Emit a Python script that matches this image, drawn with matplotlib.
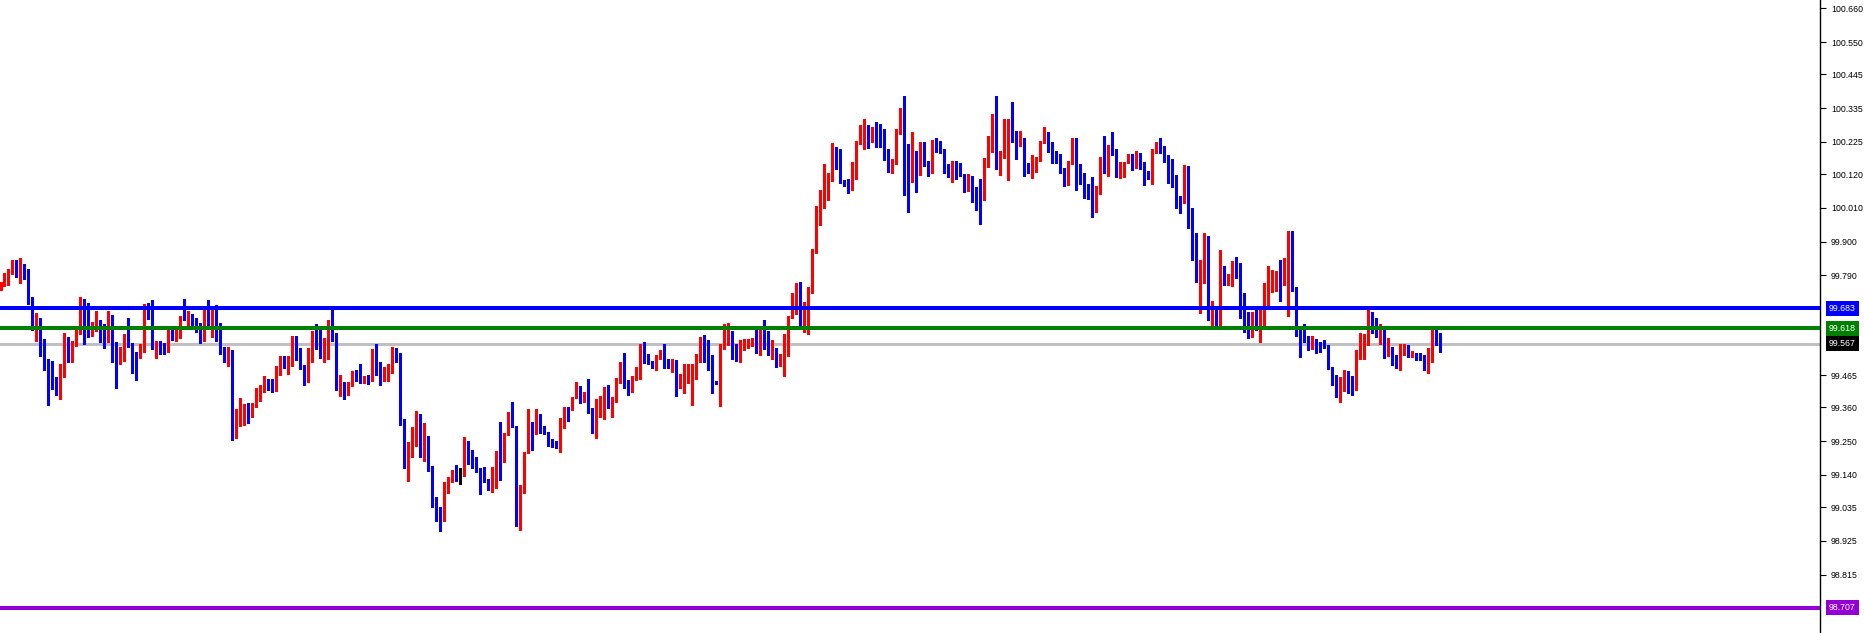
import matplotlib
matplotlib.use('Agg')
import matplotlib.pyplot as plt
import matplotlib.transforms as mtransforms
import numpy as np

plt.rcParams['font.family'] = ['Liberation Sans', 'DejaVu Sans']

# OHLC values, one candle per entry (left to right)
opens = [
    99.747, 99.756, 99.769, 99.802, 99.840, 99.802, 99.827, 99.810, 99.716, 99.632,
    99.651, 99.566, 99.517, 99.508, 99.458, 99.414, 99.495, 99.576, 99.525, 99.561,
    99.613, 99.709, 99.644, 99.609, 99.618, 99.644, 99.595, 99.585, 99.657, 99.561,
    99.515, 99.537, 99.589, 99.566, 99.528, 99.524, 99.561, 99.691, 99.685, 99.556,
    99.569, 99.563, 99.541, 99.602, 99.590, 99.606, 99.657, 99.645, 99.664, 99.635,
    99.628, 99.590, 99.664, 99.631, 99.683, 99.618, 99.542, 99.538, 99.544, 99.289,
    99.302, 99.341, 99.354, 99.341, 99.362, 99.413, 99.424, 99.445, 99.429, 99.415,
    99.492, 99.517, 99.497, 99.502, 99.582, 99.541, 99.495, 99.476, 99.547, 99.595,
    99.585, 99.521, 99.544, 99.605, 99.585, 99.427, 99.442, 99.411, 99.436, 99.471,
    99.463, 99.443, 99.458, 99.451, 99.546, 99.468, 99.459, 99.465, 99.476, 99.546,
    99.534, 99.319, 99.170, 99.246, 99.233, 99.336, 99.202, 99.244, 99.170, 99.067,
    99.012, 98.996, 99.101, 99.126, 99.156, 99.155, 99.150, 99.212, 99.198, 99.179,
    99.157, 99.153, 99.126, 99.094, 99.162, 99.214, 99.199, 99.271, 99.340, 99.298,
    98.978, 99.105, 99.211, 99.303, 99.287, 99.306, 99.287, 99.273, 99.257, 99.250,
    99.242, 99.293, 99.354, 99.351, 99.392, 99.425, 99.378, 99.407, 99.359, 99.282,
    99.355, 99.365, 99.420, 99.358, 99.382, 99.444, 99.491, 99.433, 99.427, 99.450,
    99.486, 99.564, 99.528, 99.504, 99.501, 99.517, 99.541, 99.510, 99.493, 99.504,
    99.436, 99.452, 99.491, 99.493, 99.494, 99.515, 99.579, 99.566, 99.487, 99.446,
    99.438, 99.561, 99.570, 99.610, 99.552, 99.521, 99.561, 99.561, 99.563, 99.569,
    99.561, 99.613, 99.579, 99.547, 99.550, 99.514, 99.528, 99.566, 99.655, 99.680,
    99.761, 99.629, 99.701, 99.736, 99.870, 99.960, 100.025, 100.085, 100.106, 100.204,
    100.166, 100.100, 100.090, 100.071, 100.111, 100.221, 100.223, 100.277, 100.225, 100.269,
    100.250, 100.221, 100.196, 100.136, 100.160, 100.257, 100.307, 100.155, 100.101, 100.171,
    100.152, 100.206, 100.152, 100.130, 100.225, 100.203, 100.198, 100.143, 100.125, 100.152,
    100.134, 100.119, 100.098, 100.114, 100.078, 100.058, 100.049, 100.172, 100.192, 100.313,
    100.147, 100.172, 100.204, 100.282, 100.230, 100.212, 100.237, 100.155, 100.130, 100.134,
    100.165, 100.223, 100.241, 100.223, 100.181, 100.176, 100.138, 100.125, 100.158, 100.233,
    100.134, 100.125, 100.058, 100.052, 100.013, 100.071, 100.158, 100.125, 100.210, 100.199,
    100.112, 100.114, 100.158, 100.177, 100.145, 100.177, 100.141, 100.125, 100.106, 100.193,
    100.220, 100.196, 100.181, 100.143, 100.116, 100.047, 100.025, 100.134, 99.992, 99.877,
    99.793, 99.829, 99.910, 99.655, 99.677, 99.630, 99.816, 99.774, 99.777, 99.832,
    99.803, 99.712, 99.666, 99.594, 99.659, 99.612, 99.653, 99.719, 99.769, 99.777,
    99.790, 99.775, 99.780, 99.901, 99.741, 99.619, 99.598, 99.581, 99.566, 99.572,
    99.566, 99.570, 99.558, 99.493, 99.465, 99.412, 99.455, 99.464, 99.461, 99.446,
    99.534, 99.541, 99.569, 99.666, 99.619, 99.606, 99.623, 99.536, 99.554, 99.530,
    99.501, 99.538, 99.563, 99.537, 99.538, 99.530, 99.530, 99.498, 99.549, 99.612,
    99.591,
]
highs = [
    99.767, 99.799, 99.810, 99.841, 99.841, 99.846, 99.828, 99.810, 99.720, 99.667,
    99.651, 99.582, 99.517, 99.510, 99.459, 99.501, 99.602, 99.589, 99.576, 99.617,
    99.720, 99.713, 99.700, 99.639, 99.673, 99.645, 99.631, 99.673, 99.660, 99.572,
    99.557, 99.599, 99.651, 99.569, 99.540, 99.567, 99.696, 99.700, 99.710, 99.576,
    99.576, 99.569, 99.618, 99.618, 99.618, 99.658, 99.713, 99.673, 99.665, 99.651,
    99.634, 99.677, 99.709, 99.688, 99.693, 99.634, 99.556, 99.558, 99.546, 99.354,
    99.390, 99.372, 99.374, 99.374, 99.424, 99.433, 99.462, 99.453, 99.452, 99.495,
    99.528, 99.526, 99.526, 99.592, 99.592, 99.553, 99.497, 99.555, 99.609, 99.631,
    99.618, 99.585, 99.644, 99.684, 99.602, 99.465, 99.442, 99.443, 99.479, 99.481,
    99.501, 99.462, 99.465, 99.550, 99.566, 99.507, 99.490, 99.501, 99.556, 99.555,
    99.538, 99.322, 99.248, 99.295, 99.349, 99.338, 99.309, 99.268, 99.170, 99.067,
    99.034, 99.118, 99.134, 99.156, 99.172, 99.164, 99.263, 99.250, 99.221, 99.197,
    99.163, 99.167, 99.126, 99.167, 99.219, 99.311, 99.276, 99.344, 99.379, 99.298,
    99.107, 99.214, 99.354, 99.311, 99.354, 99.338, 99.300, 99.281, 99.257, 99.250,
    99.324, 99.362, 99.362, 99.395, 99.444, 99.428, 99.411, 99.452, 99.359, 99.387,
    99.398, 99.425, 99.433, 99.393, 99.457, 99.507, 99.537, 99.449, 99.463, 99.491,
    99.566, 99.574, 99.534, 99.512, 99.531, 99.548, 99.566, 99.517, 99.516, 99.514,
    99.469, 99.501, 99.501, 99.501, 99.534, 99.590, 99.596, 99.579, 99.532, 99.446,
    99.566, 99.631, 99.635, 99.610, 99.566, 99.580, 99.582, 99.582, 99.585, 99.613,
    99.617, 99.644, 99.610, 99.580, 99.555, 99.534, 99.599, 99.659, 99.731, 99.765,
    99.769, 99.704, 99.751, 99.875, 100.016, 100.067, 100.152, 100.123, 100.221, 100.209,
    100.203, 100.100, 100.105, 100.158, 100.228, 100.279, 100.299, 100.279, 100.272, 100.290,
    100.282, 100.266, 100.201, 100.168, 100.268, 100.335, 100.375, 100.217, 100.257, 100.196,
    100.226, 100.223, 100.163, 100.231, 100.239, 100.228, 100.201, 100.152, 100.163, 100.163,
    100.155, 100.119, 100.119, 100.114, 100.078, 100.103, 100.172, 100.244, 100.317, 100.375,
    100.196, 100.299, 100.299, 100.356, 100.261, 100.261, 100.237, 100.155, 100.181, 100.177,
    100.228, 100.274, 100.257, 100.225, 100.196, 100.185, 100.141, 100.163, 100.236, 100.239,
    100.154, 100.125, 100.087, 100.109, 100.081, 100.174, 100.244, 100.215, 100.257, 100.201,
    100.158, 100.160, 100.185, 100.185, 100.196, 100.188, 100.158, 100.130, 100.201, 100.223,
    100.236, 100.210, 100.181, 100.168, 100.116, 100.049, 100.149, 100.147, 100.011, 99.927,
    99.839, 99.927, 99.918, 99.706, 99.690, 99.872, 99.820, 99.796, 99.836, 99.849,
    99.829, 99.733, 99.670, 99.671, 99.681, 99.681, 99.764, 99.820, 99.809, 99.804,
    99.839, 99.845, 99.933, 99.936, 99.752, 99.620, 99.633, 99.594, 99.592, 99.583,
    99.574, 99.581, 99.562, 99.493, 99.465, 99.459, 99.481, 99.477, 99.462, 99.547,
    99.603, 99.598, 99.679, 99.670, 99.652, 99.630, 99.625, 99.587, 99.556, 99.532,
    99.568, 99.565, 99.563, 99.543, 99.538, 99.538, 99.532, 99.554, 99.625, 99.614,
    99.603,
]
lows = [
    99.743, 99.754, 99.758, 99.793, 99.786, 99.764, 99.778, 99.696, 99.613, 99.577,
    99.528, 99.482, 99.368, 99.421, 99.401, 99.388, 99.459, 99.508, 99.508, 99.559,
    99.598, 99.566, 99.590, 99.591, 99.609, 99.574, 99.552, 99.574, 99.508, 99.424,
    99.502, 99.512, 99.557, 99.473, 99.450, 99.520, 99.541, 99.647, 99.550, 99.520,
    99.534, 99.533, 99.540, 99.580, 99.576, 99.585, 99.644, 99.623, 99.623, 99.606,
    99.569, 99.577, 99.628, 99.590, 99.576, 99.534, 99.508, 99.495, 99.253, 99.260,
    99.300, 99.303, 99.309, 99.328, 99.361, 99.380, 99.411, 99.417, 99.410, 99.413,
    99.465, 99.488, 99.468, 99.494, 99.515, 99.486, 99.432, 99.442, 99.508, 99.550,
    99.522, 99.508, 99.518, 99.577, 99.417, 99.398, 99.388, 99.401, 99.430, 99.446,
    99.440, 99.439, 99.437, 99.445, 99.465, 99.433, 99.445, 99.445, 99.473, 99.508,
    99.304, 99.162, 99.121, 99.199, 99.233, 99.199, 99.186, 99.154, 99.036, 98.989,
    98.958, 98.989, 99.082, 99.116, 99.120, 99.110, 99.137, 99.177, 99.162, 99.150,
    99.078, 99.116, 99.091, 99.083, 99.096, 99.123, 99.183, 99.271, 99.295, 98.974,
    98.961, 99.082, 99.211, 99.222, 99.273, 99.277, 99.272, 99.235, 99.230, 99.227,
    99.215, 99.292, 99.316, 99.350, 99.390, 99.373, 99.376, 99.341, 99.275, 99.260,
    99.327, 99.322, 99.358, 99.329, 99.376, 99.441, 99.422, 99.400, 99.411, 99.448,
    99.454, 99.504, 99.501, 99.487, 99.483, 99.517, 99.487, 99.487, 99.476, 99.398,
    99.422, 99.407, 99.441, 99.368, 99.452, 99.507, 99.509, 99.482, 99.407, 99.436,
    99.365, 99.550, 99.564, 99.517, 99.512, 99.509, 99.548, 99.555, 99.560, 99.537,
    99.530, 99.550, 99.530, 99.517, 99.493, 99.496, 99.463, 99.528, 99.650, 99.664,
    99.625, 99.607, 99.598, 99.734, 99.864, 99.954, 100.008, 100.036, 100.098, 100.138,
    100.092, 100.081, 100.058, 100.068, 100.105, 100.217, 100.201, 100.206, 100.223, 100.209,
    100.209, 100.165, 100.127, 100.123, 100.152, 100.250, 100.051, 99.997, 100.095, 100.062,
    100.116, 100.147, 100.114, 100.125, 100.192, 100.188, 100.125, 100.111, 100.095, 100.103,
    100.114, 100.062, 100.065, 100.029, 100.003, 99.957, 100.036, 100.144, 100.192, 100.136,
    100.116, 100.171, 100.100, 100.225, 100.168, 100.211, 100.114, 100.125, 100.107, 100.128,
    100.163, 100.221, 100.192, 100.155, 100.155, 100.123, 100.082, 100.084, 100.152, 100.069,
    100.087, 100.043, 100.040, 99.980, 99.997, 100.054, 100.124, 100.114, 100.183, 100.112,
    100.106, 100.112, 100.155, 100.134, 100.141, 100.136, 100.084, 100.103, 100.087, 100.190,
    100.188, 100.160, 100.090, 100.079, 100.011, 99.992, 100.025, 99.944, 99.840, 99.769,
    99.667, 99.764, 99.644, 99.628, 99.623, 99.628, 99.758, 99.758, 99.755, 99.780,
    99.650, 99.606, 99.587, 99.590, 99.612, 99.573, 99.625, 99.695, 99.737, 99.739,
    99.706, 99.758, 99.659, 99.738, 99.592, 99.524, 99.574, 99.546, 99.549, 99.538,
    99.541, 99.554, 99.486, 99.432, 99.395, 99.377, 99.412, 99.407, 99.399, 99.418,
    99.519, 99.516, 99.563, 99.603, 99.589, 99.568, 99.522, 99.527, 99.498, 99.487,
    99.483, 99.532, 99.525, 99.525, 99.514, 99.514, 99.481, 99.473, 99.507, 99.562,
    99.541,
]
closes = [
    99.758, 99.774, 99.802, 99.836, 99.802, 99.824, 99.808, 99.710, 99.631, 99.651,
    99.561, 99.515, 99.504, 99.456, 99.414, 99.495, 99.577, 99.525, 99.540, 99.613,
    99.713, 99.641, 99.609, 99.618, 99.644, 99.593, 99.585, 99.657, 99.558, 99.515,
    99.540, 99.592, 99.563, 99.524, 99.525, 99.566, 99.693, 99.678, 99.552, 99.572,
    99.561, 99.541, 99.602, 99.590, 99.612, 99.657, 99.645, 99.664, 99.628, 99.628,
    99.590, 99.664, 99.631, 99.683, 99.609, 99.544, 99.538, 99.546, 99.289, 99.305,
    99.341, 99.351, 99.341, 99.362, 99.416, 99.426, 99.445, 99.424, 99.417, 99.492,
    99.514, 99.497, 99.505, 99.579, 99.538, 99.491, 99.479, 99.550, 99.595, 99.587,
    99.525, 99.546, 99.602, 99.580, 99.427, 99.439, 99.411, 99.439, 99.471, 99.459,
    99.443, 99.458, 99.451, 99.546, 99.468, 99.459, 99.468, 99.478, 99.543, 99.528,
    99.316, 99.170, 99.246, 99.268, 99.335, 99.202, 99.248, 99.170, 99.061, 99.010,
    98.996, 99.104, 99.130, 99.156, 99.150, 99.155, 99.214, 99.193, 99.175, 99.153,
    99.151, 99.123, 99.094, 99.167, 99.212, 99.197, 99.273, 99.338, 99.300, 98.978,
    99.107, 99.214, 99.303, 99.287, 99.305, 99.287, 99.273, 99.250, 99.235, 99.238,
    99.293, 99.354, 99.349, 99.392, 99.425, 99.377, 99.406, 99.354, 99.282, 99.358,
    99.367, 99.420, 99.358, 99.384, 99.446, 99.491, 99.427, 99.427, 99.452, 99.488,
    99.564, 99.521, 99.504, 99.501, 99.521, 99.541, 99.510, 99.493, 99.504, 99.436,
    99.452, 99.491, 99.496, 99.496, 99.517, 99.582, 99.564, 99.487, 99.444, 99.438,
    99.564, 99.576, 99.610, 99.550, 99.521, 99.564, 99.579, 99.579, 99.580, 99.561,
    99.613, 99.579, 99.548, 99.550, 99.512, 99.530, 99.569, 99.655, 99.682, 99.762,
    99.629, 99.701, 99.738, 99.872, 99.962, 100.027, 100.087, 100.106, 100.204, 100.163,
    100.100, 100.087, 100.067, 100.113, 100.221, 100.225, 100.274, 100.225, 100.269, 100.244,
    100.215, 100.192, 100.134, 100.163, 100.263, 100.307, 100.152, 100.101, 100.174, 100.152,
    100.206, 100.149, 100.130, 100.228, 100.198, 100.192, 100.143, 100.125, 100.152, 100.130,
    100.117, 100.098, 100.117, 100.076, 100.060, 100.049, 100.172, 100.196, 100.313, 100.147,
    100.179, 100.204, 100.282, 100.228, 100.212, 100.237, 100.152, 100.130, 100.145, 100.168,
    100.225, 100.241, 100.219, 100.179, 100.172, 100.138, 100.125, 100.158, 100.230, 100.134,
    100.123, 100.051, 100.049, 100.013, 100.074, 100.158, 100.125, 100.209, 100.196, 100.114,
    100.115, 100.158, 100.177, 100.145, 100.179, 100.141, 100.125, 100.106, 100.196, 100.217,
    100.192, 100.179, 100.141, 100.114, 100.041, 100.025, 100.134, 99.989, 99.873, 99.794,
    99.832, 99.910, 99.657, 99.677, 99.630, 99.816, 99.774, 99.780, 99.832, 99.801,
    99.708, 99.659, 99.594, 99.663, 99.614, 99.653, 99.721, 99.777, 99.780, 99.793,
    99.775, 99.784, 99.901, 99.739, 99.617, 99.595, 99.576, 99.570, 99.572, 99.566,
    99.556, 99.556, 99.488, 99.464, 99.412, 99.459, 99.466, 99.458, 99.446, 99.536,
    99.541, 99.573, 99.666, 99.614, 99.604, 99.625, 99.536, 99.554, 99.530, 99.503,
    99.540, 99.563, 99.535, 99.539, 99.525, 99.527, 99.498, 99.552, 99.612, 99.592,
    99.567,
]

# horizontal levels and their label colours
levels = [99.683, 99.618, 98.707]
level_colors = ['#0000FF', '#008000', '#9400D3']
bid_price = 99.567

y_ticks = [100.660, 100.550, 100.445, 100.335, 100.225, 100.120, 100.010, 99.900,
           99.790, 99.465, 99.360, 99.250, 99.140, 99.035, 98.925, 98.815]

o = np.array(opens)
c = np.array(closes)
h = np.maximum(np.array(highs), np.maximum(o, c))
l = np.minimum(np.array(lows), np.minimum(o, c))
x = np.arange(len(c))

colors = np.where(c > o, '#FF0000', np.where(c < o, '#0000FF', '#000000'))

fig = plt.figure(figsize=(18.65, 6.33), dpi=100)
ax = fig.add_axes([0, 0, 1820 / 1865, 1])

# wicks and bodies
ax.vlines(x, l, h, colors=colors, linewidth=0.75, antialiased=False, zorder=2)
body = np.abs(c - o)
tiny = body < 0.002
ax.bar(x, np.where(tiny, 0.0025, body),
       bottom=np.minimum(o, c) - np.where(tiny, 0.00125, 0),
       width=0.75, color=colors, linewidth=0, antialiased=False, zorder=2)

# levels
for lvl, col in zip(levels, level_colors):
    ax.axhline(lvl, color=col, linewidth=1.5, antialiased=False, zorder=3)
ax.axhline(bid_price, color='#C0C0C0', linewidth=0.8, antialiased=False, zorder=1)

# 4 px per candle, offset so body edges fall on whole pixels
ax.set_xlim(-0.125, 454.875)
ax.set_ylim(98.625, 100.687)
ax.set_xticks([])
ax.yaxis.tick_right()
ax.set_yticks(y_ticks)
ax.set_yticklabels([f'{t:.3f}' for t in y_ticks])
ax.tick_params(axis='y', length=4, width=0.8, pad=4, labelsize=6.3, colors='black')
for side in ['top', 'left', 'bottom']:
    ax.spines[side].set_visible(False)
ax.spines['right'].set_linewidth(1.0)
ax.spines['right'].set_color('black')

# price tags on the right axis
trans = mtransforms.blended_transform_factory(ax.transAxes, ax.transData)
tags = list(zip(levels, level_colors)) + [(bid_price, '#000000')]
for val, col in tags:
    ax.text(1 + 9 / 1820, val, f'{val:.3f}', transform=trans, ha='left', va='center',
            color='white', fontsize=6.3, clip_on=False, zorder=5,
            bbox=dict(boxstyle='square,pad=0.35', fc=col, ec='none'))

fig.savefig('out.png', dpi=100)
